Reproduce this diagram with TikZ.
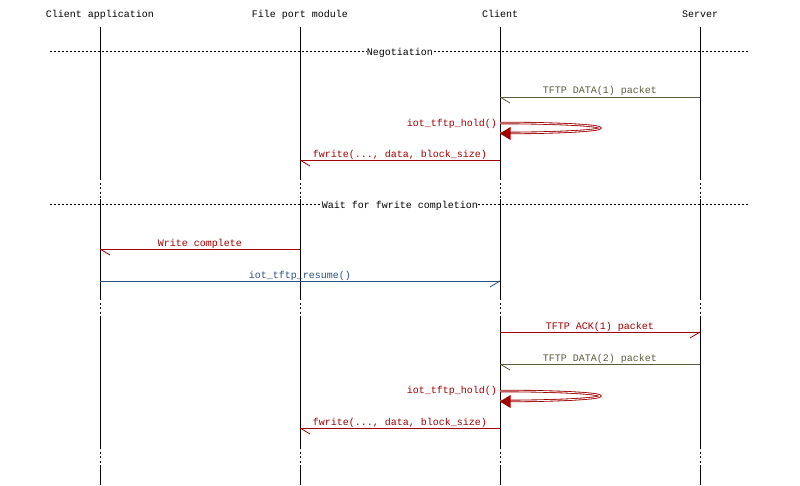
\documentclass[tikz,border=0pt]{standalone}
\usepackage{fontspec}
\setmainfont{Liberation Mono}
\definecolor{msgred}{RGB}{160,0,0}
\definecolor{msgolive}{RGB}{92,92,62}
\definecolor{msgblue}{RGB}{40,80,130}
\begin{document}
\begin{tikzpicture}[x=1pt,y=-1pt,
  every node/.style={font=\fontsize{10}{12}\selectfont, inner sep=0pt},
  life/.style={line width=1pt, black},
  lifedot/.style={line width=1pt, black, dash pattern=on 2.2pt off 2.3pt},
  divline/.style={line width=1pt, black, dash pattern=on 2pt off 2pt},
  divlabel/.style={fill=white, anchor=base},
  msg/.style={line width=0.9pt},
  barb/.style={line width=0.8pt},
  lbl/.style={anchor=base},
  selfarc/.style={line width=0.85pt, double=white, double distance=0.8pt}]
\useasboundingbox[fill=white] (0,0) rectangle (800,485);

% headers
\node[lbl] (hca) at (100,17.5) {Client application};
\node[lbl] (hfp) at (300,17.5) {File port module};
\node[lbl] (hcl) at (500,17.5) {Client};
\node[lbl] (hsv) at (700,17.5) {Server};

% lifelines
\foreach \n/\x in {ca/100,fp/300,cl/500,sv/700}{
  \coordinate (\n-a) at (\x,27);
  \coordinate (\n-b) at (\x,178);
  \coordinate (\n-c) at (\x,199);
  \coordinate (\n-d) at (\x,298);
  \coordinate (\n-e) at (\x,318);
  \coordinate (\n-f) at (\x,447);
  \coordinate (\n-g) at (\x,467);
  \coordinate (\n-h) at (\x,485);
  \draw[life] (\n-a) -- (\n-b);
  \draw[lifedot] (\n-b) -- (\n-c);
  \draw[life] (\n-c) -- (\n-d);
  \draw[lifedot] (\n-d) -- (\n-e);
  \draw[life] (\n-e) -- (\n-f);
  \draw[lifedot] (\n-f) -- (\n-g);
  \draw[life] (\n-g) -- (\n-h);
}

% divider: Negotiation
\coordinate (n1l) at (50,51.5);
\coordinate (n1r) at (750,51.5);
\draw[divline] (n1l) -- (n1r);
\node[divlabel] (neg) at (400,55.5) {Negotiation};

% TFTP DATA(1)
\coordinate (d1s) at (700,97);
\coordinate (d1e) at (500,97);
\draw[msg, msgolive] (d1s) -- (d1e);
\draw[barb, msgolive] (d1e) -- ++(10,6);
\node[lbl, text=msgolive] (d1l) at (600,93.5) {TFTP DATA(1) packet};

% iot_tftp_hold() 1
\coordinate (h1t) at (500,123);
\coordinate (h1b) at (500,133);
\draw[selfarc, msgred] (h1t) arc[start angle=-90, end angle=90, x radius=100, y radius=5];
\fill[msgred] (500,133.5) -- ++(10.5,-6.5) -- ++(0,13) -- cycle;
\node[anchor=base east, text=msgred] (h1l) at (497,126) {iot\_tftp\_hold()};

% fwrite 1
\coordinate (f1s) at (500,160);
\coordinate (f1e) at (300,160);
\draw[msg, msgred] (f1s) -- (f1e);
\draw[barb, msgred] (f1e) -- ++(10,6);
\node[lbl, text=msgred] (f1l) at (400,157) {fwrite(..., data, block\_size)};

% divider: Wait for fwrite completion
\coordinate (w1l) at (50,204);
\coordinate (w1r) at (750,204);
\draw[divline] (w1l) -- (w1r);
\node[divlabel] (wait) at (400,208) {Wait for fwrite completion};

% Write complete
\coordinate (wcs) at (300,249);
\coordinate (wce) at (100,249);
\draw[msg, msgred] (wcs) -- (wce);
\draw[barb, msgred] (wce) -- ++(10,6);
\node[lbl, text=msgred] (wcl) at (200,246) {Write complete};

% iot_tftp_resume()
\coordinate (rss) at (100,281);
\coordinate (rse) at (500,281);
\draw[msg, msgblue] (rss) -- (rse);
\draw[barb, msgblue] (rse) -- ++(-10,6);
\node[lbl, text=msgblue] (rsl) at (300,278) {iot\_tftp\_resume()};

% TFTP ACK(1)
\coordinate (a1s) at (500,332);
\coordinate (a1e) at (700,332);
\draw[msg, msgred] (a1s) -- (a1e);
\draw[barb, msgred] (a1e) -- ++(-10,6);
\node[lbl, text=msgred] (a1l) at (600,329) {TFTP ACK(1) packet};

% TFTP DATA(2)
\coordinate (d2s) at (700,364);
\coordinate (d2e) at (500,364);
\draw[msg, msgolive] (d2s) -- (d2e);
\draw[barb, msgolive] (d2e) -- ++(10,6);
\node[lbl, text=msgolive] (d2l) at (600,361) {TFTP DATA(2) packet};

% iot_tftp_hold() 2
\coordinate (h2t) at (500,391);
\coordinate (h2b) at (500,401);
\draw[selfarc, msgred] (h2t) arc[start angle=-90, end angle=90, x radius=100, y radius=5];
\fill[msgred] (500,401.5) -- ++(10.5,-6.5) -- ++(0,13) -- cycle;
\node[anchor=base east, text=msgred] (h2l) at (497,393.5) {iot\_tftp\_hold()};

% fwrite 2
\coordinate (f2s) at (500,428);
\coordinate (f2e) at (300,428);
\draw[msg, msgred] (f2s) -- (f2e);
\draw[barb, msgred] (f2e) -- ++(10,6);
\node[lbl, text=msgred] (f2l) at (400,425) {fwrite(..., data, block\_size)};
\end{tikzpicture}
\end{document}
